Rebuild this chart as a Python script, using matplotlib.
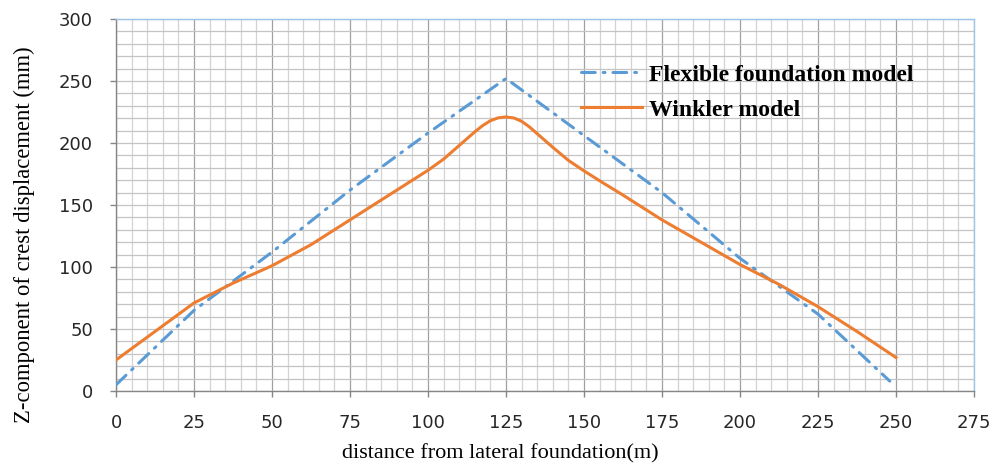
import matplotlib
matplotlib.use("Agg")
import matplotlib.pyplot as plt
from matplotlib.ticker import MultipleLocator

# Flexible foundation model
flex_x = [0, 25, 50, 75, 100, 125, 150, 175, 200, 225, 248]
flex_y = [5, 65, 112, 162, 208, 252, 206, 160, 107, 62, 8]

# Winkler model
wink_x = [0, 12.5, 25, 37.5, 50, 62.5, 75, 87.5, 100, 105, 110, 115, 117.5, 120,
          122.5, 125, 127.5, 130, 132.5, 135, 140, 145, 150, 156, 162.5, 175,
          187.5, 200, 212.5, 225, 237.5, 250]
wink_y = [25, 48, 71, 87, 101, 118, 138, 158, 178, 187, 198, 209, 214, 218,
          220.3, 221, 220.2, 217.5, 213, 207.5, 196.5, 186, 177.5, 168, 158, 138,
          120, 102, 86, 68, 48, 27]

x_ticks = [0, 25, 50, 75, 100, 125, 150, 175, 200, 225, 250, 275]
y_ticks = [0, 50, 100, 150, 200, 250, 300]

fig = plt.figure(figsize=(9.93, 4.66), dpi=100)
ax = fig.add_axes([116/993, 1-391/466, (974-116)/993, (391-19)/466])

ax.set_xlim(0, 275)
ax.set_ylim(0, 300)

# grid
ax.xaxis.set_minor_locator(MultipleLocator(5))
ax.yaxis.set_minor_locator(MultipleLocator(10))
ax.grid(which='minor', axis='x', color='#D3D3D3', linewidth=0.9, zorder=0)
ax.grid(which='major', axis='x', color='#A0A0A0', linewidth=0.9, zorder=0)
ax.grid(which='both', axis='y', color='#C4C4C4', linewidth=0.9, zorder=0)
ax.set_axisbelow(True)

ax.plot(flex_x, flex_y, color='#5B9BD5', linewidth=2.2,
        linestyle=(0, (4.5, 2.6, 0.6, 2.6)), dash_capstyle='round',
        label='Flexible foundation model', zorder=3)
ax.plot(wink_x, wink_y, color='#ED7D31', linewidth=2.2,
        solid_joinstyle='round', label='Winkler model', zorder=4)

ax.set_xticks(x_ticks)
ax.set_yticks(y_ticks)
ax.tick_params(which='minor', length=0)
ax.tick_params(which='major', direction='out', length=4.5, width=1,
               color='#868686', labelsize=13, labelcolor='#262626')
ax.tick_params(axis='y', pad=12)
ax.tick_params(axis='x', pad=12)

for s in ['left', 'bottom']:
    ax.spines[s].set_color('#868686')
    ax.spines[s].set_linewidth(1)
for s in ['top', 'right']:
    ax.spines[s].set_color('#9DC3E6')
    ax.spines[s].set_linewidth(1)

serif = ['Liberation Serif', 'DejaVu Serif']
ax.set_xlabel('distance from lateral foundation(m)', family=serif, fontsize=16)
ax.set_ylabel('Z-component of crest displacement (mm)', family=serif, fontsize=16.3)
ax.xaxis.set_label_coords((500-116)/858, (391-444)/372)
ax.yaxis.set_label_coords((35-116)/858, (391-235)/372)

leg = ax.legend(loc='upper left', bbox_to_anchor=((581-116)/858, 1 - 45/372),
                frameon=False, prop={'family': serif, 'weight': 'bold', 'size': 17},
                handlelength=2.6, handletextpad=0.3, labelspacing=0.58,
                borderaxespad=0, borderpad=0)

fig.savefig('out.png', dpi=100)
